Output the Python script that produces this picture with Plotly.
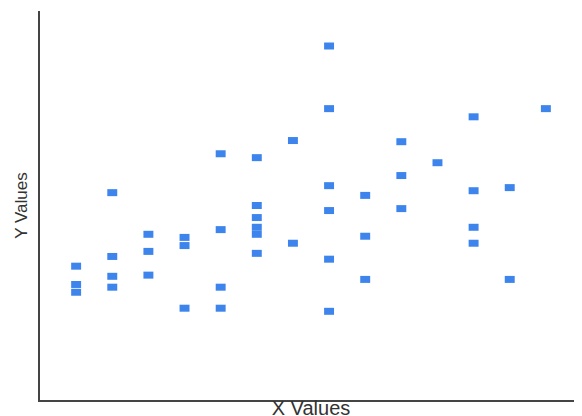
import plotly.graph_objects as go

x_values = [1, 1, 1,
            2, 2, 2, 2,
            3, 3, 3,
            4, 4, 4,
            5, 5, 5, 5,
            6, 6, 6, 6, 6, 6,
            7, 7,
            8, 8, 8, 8, 8, 8,
            9, 9, 9,
            10, 10, 10,
            11,
            12, 12, 12, 12,
            13, 13,
            14]
y_values = [34.4, 29.7, 27.7,
            53.3, 36.9, 31.8, 29.0,
            42.6, 38.2, 32.1,
            41.8, 39.7, 23.6,
            63.3, 43.8, 29.0, 23.6,
            62.3, 50.0, 46.9, 44.4, 42.6, 37.7,
            66.7, 40.3,
            91.0, 74.9, 55.1, 48.7, 36.2, 22.8,
            52.6, 42.1, 31.0,
            66.4, 57.7, 49.2,
            61.0,
            72.8, 53.8, 44.4, 40.3,
            54.6, 31.0,
            74.9]

x_title = "X Values"
y_title = "Y Values"

point_color = "#3d85ec"
axis_color = "#444444"

fig = go.Figure(go.Scatter(
    x=x_values, y=y_values, mode="markers",
    marker=dict(symbol="line-ew", size=7.1, color=point_color,
                line=dict(width=7, color=point_color)),
    showlegend=False,
))

fig.update_layout(
    width=582, height=416,
    margin=dict(l=32, r=8, t=3, b=24),
    paper_bgcolor="white", plot_bgcolor="white",
    font=dict(family="Liberation Sans, Arial, sans-serif", color="#333333"),
)
fig.update_xaxes(
    range=[0, 15], showgrid=False, zeroline=False, showticklabels=False, ticks="",
    showline=True, linecolor=axis_color, linewidth=1.5,
    title=dict(text=x_title, font=dict(size=20, color="#333333"), standoff=0),
    automargin=False,
)
fig.update_yaxes(
    range=[0, 100], showgrid=False, zeroline=False, showticklabels=False, ticks="",
    showline=True, linecolor=axis_color, linewidth=1.5,
    title=dict(text=y_title, font=dict(size=17, color="#333333"), standoff=6),
    automargin=False,
)

fig.write_html("out.html")
